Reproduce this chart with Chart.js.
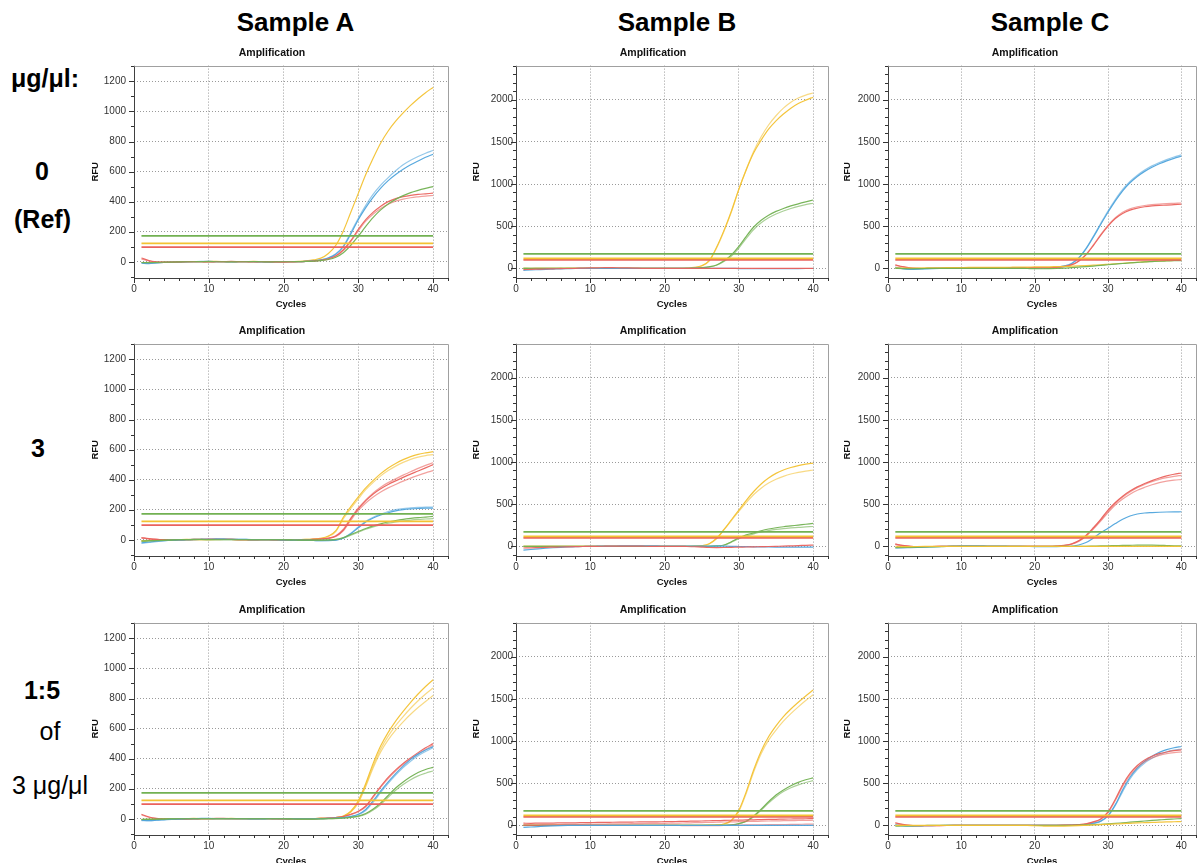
<!DOCTYPE html>
<html><head><meta charset="utf-8">
<script src="https://cdn.jsdelivr.net/npm/chart.js@4.4.1/dist/chart.umd.min.js"></script>
<style>
html,body{margin:0;padding:0;background:#fff;width:1197px;height:863px;overflow:hidden;position:relative;font-family:"Liberation Sans",Arial,sans-serif;}
.lbl{position:absolute;text-align:center;white-space:nowrap;color:#000;}
.hdr{font-size:26px;font-weight:bold;line-height:30px;width:200px;}
.row{font-size:25px;line-height:28px;width:100px;}
.b{font-weight:bold;}
canvas{position:absolute;}
</style></head><body>
<div class="lbl hdr" style="left:195.5px;top:7px">Sample A</div>
<div class="lbl hdr" style="left:577px;top:7px">Sample B</div>
<div class="lbl hdr" style="left:950px;top:7px">Sample C</div>
<div class="lbl row b" style="left:-5px;top:64px">μg/μl:</div>
<div class="lbl row b" style="left:-8px;top:157px">0</div>
<div class="lbl row b" style="left:-7.5px;top:205px">(Ref)</div>
<div class="lbl row b" style="left:-12px;top:434px">3</div>
<div class="lbl row b" style="left:-8px;top:676px">1:5</div>
<div class="lbl row" style="left:0px;top:717px">of</div>
<div class="lbl row" style="left:0px;top:771px">3 μg/μl</div>
<script>
const cycles = [1,2,3,4,5,6,7,8,9,10,11,12,13,14,15,16,17,18,19,20,21,22,23,24,25,26,27,28,29,30,31,32,33,34,35,36,37,38,39,40];
const xTickLabels = [0,10,20,30,40];
const yTickLabelsA = [0,200,400,600,800,1000,1200];
const yTickLabelsBC = [0,500,1000,1500,2000];
const thresholdsA = [172,122,98];   // green, yellow, red
const thresholdsBC = [172,118,100]; // green, yellow, red

// ---- Sample A, 0 µg/µl ----
const A1_yellow = [-5,-8,-6,-4,-3,-2,-1,0,1,2, 2,1,0,0,1,2,1,0,-1,0, 1,3,6,12,24,55,110,205,330,455, 580,690,790,870,935,990,1040,1085,1125,1160];
const A1_blue1 = [-10,-12,-8,-5,-3,-2,-1,0,1,2, 1,0,-1,0,1,0,-1,-2,-1,0, 0,1,3,6,12,25,50,100,185,280, 360,430,490,540,580,615,645,670,695,715];
const A1_blue2 = [-6,-10,-7,-4,-2,-1,0,1,2,2, 1,0,0,1,1,0,-1,-1,0,0, 0,1,3,6,13,27,54,105,195,290, 375,450,510,560,605,645,675,700,722,740];
const A1_green = [-5,-6,-4,-3,-2,-1,0,0,1,1, 0,0,-1,0,0,1,0,-1,0,0, 0,1,2,4,8,15,30,60,110,170, 235,295,345,385,415,440,460,475,488,500];
const A1_red1 = [25,8,0,-3,-2,-1,0,1,0,-1, 0,1,2,1,0,-1,0,0,-1,-2, -1,0,2,5,10,20,40,80,140,215, 280,330,370,400,420,433,442,448,452,456];
const A1_red2 = [18,5,-1,-3,-2,-1,0,0,0,-1, 0,0,1,1,0,0,0,-1,-1,-1, 0,0,2,4,9,18,37,75,135,205, 270,318,355,383,403,417,426,432,437,441];

// ---- Sample B, 0 µg/µl ----
const B1_yellow1 = [0,-2,-1,0,0,0,1,0,0,-1, 0,0,0,0,0,0,0,0,0,0, 0,0,3,10,30,90,250,450,680,940, 1170,1370,1520,1650,1750,1830,1900,1955,1995,2030];
const B1_yellow2 = [0,-1,0,0,0,1,0,0,0,0, 0,0,0,0,0,0,0,0,0,0, 0,0,3,9,28,85,240,440,670,935, 1175,1390,1560,1700,1810,1900,1970,2020,2055,2080];
const B1_green1 = [0,0,0,0,0,0,0,0,0,0, 0,0,0,0,0,0,0,0,0,0, 0,0,0,3,8,18,40,90,160,260, 380,490,570,630,675,710,740,765,788,810];
const B1_green2 = [0,0,0,0,0,0,0,0,0,0, 0,0,0,0,0,0,0,0,0,0, 0,0,0,2,7,16,36,80,145,240, 355,460,540,600,645,680,710,735,755,772];
const B1_red = [-15,-12,-10,-8,-6,-4,-2,0,2,4, 6,8,8,6,4,2,0,0,0,0, 0,0,0,0,0,0,0,0,0,0, 0,0,0,0,0,0,0,0,0,0];
const B1_blue = [-25,-20,-16,-12,-9,-6,-4,-2,-1,0, 0,0,0,0,0,0,0,0,0,0, 0,0,0,0,0,0,0,0,0,-3, -5,-5,-4,-3,-3,-4,-5,-3,-2,-2];

// ---- Sample C, 0 µg/µl ----
const C1_blue1 = [10,-5,-12,-10,-6,-3,-1,0,1,2, 3,2,1,2,3,4,5,4,3,2, 3,6,12,26,55,120,230,370,520,665, 800,920,1015,1090,1150,1200,1240,1275,1305,1330];
const C1_blue2 = [12,-3,-10,-9,-5,-2,0,1,2,2, 3,3,2,2,3,4,4,4,3,3, 3,6,13,28,58,125,238,380,532,680, 815,935,1030,1105,1165,1215,1255,1290,1320,1345];
const C1_red1 = [40,20,5,0,-2,-1,0,1,2,3, 4,4,5,5,6,6,6,7,7,8, 8,9,12,20,40,85,160,270,390,500, 590,650,690,715,730,740,746,750,755,760];
const C1_red2 = [35,16,3,-1,-2,-1,0,1,2,3, 3,4,4,5,5,6,6,6,7,7, 8,9,12,21,42,88,165,278,400,510, 600,665,705,730,745,755,762,767,771,775];
const C1_yellow = [5,3,2,3,4,5,6,7,8,9, 10,10,10,11,12,12,13,14,15,16, 17,18,20,22,25,28,32,37,42,48, 54,60,66,72,77,82,86,90,93,96];
const C1_green = [0,-3,-5,-4,-2,0,0,0,0,0, 0,0,0,0,0,0,0,0,-2,-4, -5,-4,-2,2,8,14,20,27,35,42, 50,57,64,70,76,80,84,87,90,92];

// ---- Sample A, 3 µg/µl ----
const A2_yellow1 = [-8,-5,-3,-1,0,1,2,1,0,1, 2,3,2,1,0,-1,0,1,0,-1, 0,1,2,5,10,25,60,150,220,285, 345,395,440,478,508,533,553,568,578,586];
const A2_yellow2 = [-6,-4,-2,-1,0,1,1,1,0,1, 1,2,2,1,0,0,0,1,0,0, 0,1,2,4,9,22,55,140,208,272, 333,382,425,460,490,515,535,550,560,566];
const A2_red1 = [15,8,3,0,-2,-1,0,2,3,4, 4,3,2,1,0,-1,0,0,-1,-2, -2,-1,0,2,5,10,25,65,140,205, 260,305,340,368,392,415,437,457,478,500];
const A2_red2 = [12,6,2,0,-1,-1,0,1,2,3, 3,3,2,1,0,0,0,0,-1,-1, -2,-1,0,2,4,9,22,60,130,195, 245,285,318,345,368,390,410,428,445,460];
const A2_red3 = [10,5,2,0,-1,0,1,2,3,3, 3,2,2,1,0,0,0,0,-1,-2, -2,-1,0,2,5,11,27,70,145,212, 265,312,350,380,405,430,452,475,495,512];
const A2_blue1 = [-20,-15,-10,-6,-3,-1,0,1,2,3, 4,4,3,2,2,1,0,0,0,-1, -2,-3,-4,-5,-6,-6,-3,10,40,80, 118,145,165,180,192,200,205,208,210,210];
const A2_blue2 = [-24,-18,-12,-7,-4,-1,0,2,3,3, 4,4,3,3,2,1,1,0,0,-1, -2,-3,-4,-5,-6,-5,-2,12,43,85, 123,150,170,188,200,208,212,215,217,218];
const A2_green1 = [-10,-8,-6,-4,-2,0,1,2,2,1, 0,0,0,0,0,0,0,0,0,0, -1,-2,-3,-3,-2,-1,2,15,35,55, 75,92,106,118,128,136,142,147,151,155];
const A2_green2 = [-8,-6,-5,-3,-1,0,1,1,1,1, 0,0,0,0,0,0,0,0,0,0, -1,-2,-2,-3,-2,-1,1,12,30,50, 70,86,99,110,119,126,131,135,138,141];

// ---- Sample B, 3 µg/µl ----
const B2_yellow1 = [0,0,0,0,0,0,0,0,0,0, 0,0,0,0,0,0,0,0,0,0, 0,0,0,2,8,30,95,200,315,430, 545,650,740,810,865,905,935,958,975,988];
const B2_yellow2 = [0,0,0,0,0,0,0,0,0,0, 0,0,0,0,0,0,0,0,0,0, 0,0,0,2,7,28,90,195,305,415, 520,615,690,750,795,830,858,878,893,905];
const B2_green1 = [0,0,0,0,0,0,0,0,0,0, 0,0,0,0,0,0,0,0,0,0, 0,0,0,0,0,0,5,15,55,100, 135,160,185,205,220,232,242,252,262,272];
const B2_green2 = [0,0,0,0,0,0,0,0,0,0, 0,0,0,0,0,0,0,0,0,0, 0,0,0,0,0,0,4,13,50,90, 122,148,170,187,200,210,218,225,230,235];
const B2_red = [-20,-18,-15,-12,-10,-8,-6,-4,-2,0, 0,1,2,2,2,1,1,0,0,0, 0,0,-2,-5,-10,-14,-15,-14,-12,-10, -8,-6,-4,-2,0,2,5,8,12,15];
const B2_blue = [-45,-38,-30,-23,-17,-12,-8,-5,-2,0, 1,2,3,4,5,5,5,4,4,3, 3,3,3,2,2,2,1,1,0,-2, -4,-6,-7,-8,-9,-10,-10,-10,-10,-10];

// ---- Sample C, 3 µg/µl ----
const C2_red1 = [28,10,0,-3,-3,-2,-1,0,1,1, 1,1,1,0,0,0,0,0,0,0, 0,0,3,10,28,65,130,220,320,430, 520,595,655,705,745,780,810,835,855,870];
const C2_red2 = [24,8,0,-3,-3,-2,-1,0,0,1, 1,1,0,0,0,0,0,0,0,0, 0,0,3,9,26,62,125,212,310,415, 510,585,645,695,735,768,795,815,830,842];
const C2_red3 = [20,6,-1,-3,-3,-2,-1,0,0,0, 1,0,0,0,0,0,0,0,0,0, 0,0,2,8,24,58,120,205,300,400, 490,560,618,665,700,730,755,773,785,792];
const C2_blue = [-20,-18,-15,-12,-9,-6,-3,0,2,4, 5,5,4,3,2,1,0,-1,-2,-3, -3,-3,-3,-2,0,15,45,98,160,215, 270,322,360,383,395,400,404,407,409,410];
const C2_green = [-15,-14,-12,-10,-8,-6,-4,-2,0,0, 0,0,0,0,0,0,0,0,0,0, 0,0,0,0,0,0,0,2,4,6, 8,10,12,14,15,14,12,9,6,4];
const C2_yellow = [-5,-4,-3,-2,-1,0,0,0,0,0, 0,0,0,0,0,0,0,0,0,0, 0,0,0,0,0,0,0,0,0,0, 0,0,0,0,0,0,0,0,0,0];

// ---- Sample A, 1:5 of 3 µg/µl ----
const A3_yellow1 = [-8,-6,-4,-2,-1,0,1,2,1,0, 0,1,2,1,0,-1,0,1,0,-1, 0,0,0,1,2,4,8,18,50,120, 235,370,485,575,650,715,775,830,880,925];
const A3_yellow2 = [-6,-5,-3,-2,-1,0,1,1,1,0, 0,1,1,1,0,0,0,1,0,0, 0,0,0,1,2,4,8,17,47,112, 225,355,465,550,620,680,735,785,830,870];
const A3_yellow3 = [-5,-4,-3,-1,0,0,1,1,0,0, 0,0,1,1,0,0,0,0,0,0, 0,0,0,1,2,3,7,16,44,105, 215,340,445,525,590,645,695,740,780,820];
const A3_red1 = [30,12,2,-3,-4,-3,-2,-1,0,1, 2,2,1,0,0,0,0,0,-1,-1, -1,0,0,1,2,4,8,15,30,50, 85,150,215,275,325,368,405,440,472,500];
const A3_red2 = [25,10,1,-3,-4,-3,-2,-1,0,1, 1,1,1,0,0,0,0,0,0,-1, -1,-1,0,1,2,4,7,14,28,47, 80,143,210,268,318,360,398,432,462,490];
const A3_blue1 = [-10,-12,-10,-7,-4,-2,0,1,2,2, 1,0,0,0,0,-1,-1,0,0,0, 0,0,0,0,1,2,4,8,16,30, 62,120,185,245,300,350,395,430,458,480];
const A3_blue2 = [-12,-13,-10,-6,-3,-1,0,1,1,1, 1,0,0,0,-1,-1,-1,0,0,0, 0,0,0,0,1,2,3,7,14,27, 55,110,175,235,290,340,383,420,448,472];
const A3_green1 = [-5,-4,-3,-2,-1,0,0,0,0,0, 0,0,0,0,0,0,0,0,0,0, -1,-2,-2,-2,-1,0,2,5,10,18, 35,65,105,155,205,245,280,308,328,342];
const A3_green2 = [-4,-3,-2,-1,0,0,0,0,0,0, 0,0,0,0,0,0,0,0,0,0, -1,-2,-2,-2,-1,0,1,4,8,15, 30,58,95,143,190,228,260,285,303,318];

// ---- Sample B, 1:5 of 3 µg/µl ----
const B3_yellow1 = [0,0,0,0,0,0,0,0,0,0, 0,0,0,0,0,0,0,0,0,0, 0,0,0,0,0,1,4,15,60,180, 400,660,880,1050,1180,1290,1380,1460,1535,1605];
const B3_yellow2 = [0,0,0,0,0,0,0,0,0,0, 0,0,0,0,0,0,0,0,0,0, 0,0,0,0,0,1,4,14,55,165, 380,635,850,1010,1130,1235,1325,1405,1480,1550];
const B3_green1 = [0,0,0,0,0,0,0,0,0,0, 0,0,0,0,0,0,0,0,0,0, 0,0,0,0,0,0,0,0,5,20, 50,110,190,280,360,420,470,510,540,562];
const B3_green2 = [0,0,0,0,0,0,0,0,0,0, 0,0,0,0,0,0,0,0,0,0, 0,0,0,0,0,0,0,0,4,18, 45,102,180,265,340,400,445,480,508,530];
const B3_red1 = [25,24,26,27,27,29,30,30,32,33, 34,34,36,37,37,39,40,41,41,43, 44,46,47,50,51,54,55,58,60,61, 64,65,68,70,71,74,75,76,78,80];
const B3_red2 = [5,6,6,8,9,9,11,12,12,14, 15,15,17,18,18,20,21,22,22,24, 25,27,28,31,32,35,36,39,40,43, 45,46,49,51,52,55,56,57,58,60];
const B3_red3 = [0,-2,-3,-3,-2,-1,0,0,0,0, 0,0,0,0,0,0,0,0,0,0, 0,-2,-4,-5,-5,-4,-3,-2,0,2, 4,5,6,7,8,9,10,12,13,15];
const B3_blue = [-25,-20,-15,-10,-6,-3,-1,0,0,0, 0,0,0,0,0,0,0,0,0,0, 0,0,0,0,0,0,0,0,0,0, 0,0,0,0,0,0,0,0,0,0];

// ---- Sample C, 1:5 of 3 µg/µl ----
const C3_red1 = [30,10,0,-4,-5,-4,-3,-2,-1,0, 0,0,0,0,0,0,0,0,0,0, 0,0,0,1,3,8,18,40,75,160, 310,480,615,710,775,820,850,870,885,895];
const C3_red2 = [26,8,-1,-4,-5,-4,-3,-2,-1,0, 0,0,0,0,0,0,0,0,0,0, 0,0,0,1,3,7,16,37,70,150, 295,460,595,690,755,800,830,850,862,870];
const C3_blue1 = [5,-5,-8,-7,-5,-3,-2,-1,0,0, 0,0,0,0,0,0,0,0,0,0, 0,0,0,0,1,4,10,25,50,115, 245,420,570,680,760,820,865,898,920,935];
const C3_blue2 = [3,-6,-9,-7,-5,-3,-2,-1,0,0, 0,0,0,0,0,0,0,0,0,0, 0,0,0,0,1,3,9,22,47,110, 235,400,550,660,740,795,840,872,892,905];
const C3_green = [-10,-8,-6,-4,-2,0,0,0,0,0, 0,0,0,0,0,0,0,0,0,0, 0,0,0,0,0,2,5,8,12,17, 23,30,37,44,51,58,64,70,75,80];
const C3_yellow = [0,0,0,0,0,0,0,0,0,0, 0,0,0,0,0,0,0,0,0,-5, -8,-10,-10,-9,-7,-4,0,4,8,12, 16,20,24,28,31,34,37,40,42,44];

const panels = [
  [ {thr:thresholdsA, yTicks:yTickLabelsA, curves:{green:[A1_green], red:[A1_red1,A1_red2], blue:[A1_blue1,A1_blue2], yellow:[A1_yellow]}},
    {thr:thresholdsBC, yTicks:yTickLabelsBC, curves:{red:[B1_red], blue:[B1_blue], green:[B1_green1,B1_green2], yellow:[B1_yellow1,B1_yellow2]}},
    {thr:thresholdsBC, yTicks:yTickLabelsBC, curves:{green:[C1_green], yellow:[C1_yellow], red:[C1_red1,C1_red2], blue:[C1_blue1,C1_blue2]}} ],
  [ {thr:thresholdsA, yTicks:yTickLabelsA, curves:{green:[A2_green1,A2_green2], blue:[A2_blue1,A2_blue2], red:[A2_red1,A2_red2,A2_red3], yellow:[A2_yellow1,A2_yellow2]}},
    {thr:thresholdsBC, yTicks:yTickLabelsBC, curves:{red:[B2_red], blue:[B2_blue], green:[B2_green1,B2_green2], yellow:[B2_yellow1,B2_yellow2]}},
    {thr:thresholdsBC, yTicks:yTickLabelsBC, curves:{yellow:[C2_yellow], green:[C2_green], blue:[C2_blue], red:[C2_red1,C2_red2,C2_red3]}} ],
  [ {thr:thresholdsA, yTicks:yTickLabelsA, curves:{green:[A3_green1,A3_green2], blue:[A3_blue1,A3_blue2], red:[A3_red1,A3_red2], yellow:[A3_yellow1,A3_yellow2,A3_yellow3]}},
    {thr:thresholdsBC, yTicks:yTickLabelsBC, curves:{blue:[B3_blue], red:[B3_red1,B3_red2,B3_red3], green:[B3_green1,B3_green2], yellow:[B3_yellow1,B3_yellow2]}},
    {thr:thresholdsBC, yTicks:yTickLabelsBC, curves:{yellow:[C3_yellow], green:[C3_green], red:[C3_red1,C3_red2], blue:[C3_blue1,C3_blue2]}} ]
];

// ---- layout / style (not data) ----
const FF = '"Liberation Sans", Arial, sans-serif';
const COLORS = {yellow:[243,194,51], blue:[79,164,220], green:[114,177,82], red:[234,98,93]};
const THR_ORDER = ['green','yellow','red'];
const columns = [
  {left:87,  width:370, yW:47, rW:9,  yMin:-108, yMax:1305, step:200, labelPad:8, rfuPad:2.3},
  {left:470, width:366, yW:46, rW:8,  yMin:-115, yMax:2405, step:500, labelPad:3, rfuPad:0.3},
  {left:842, width:366, yW:46, rW:12, yMin:-115, yMax:2405, step:500, labelPad:8, rfuPad:0}
];
const rowTops = [43, 321, 600];
const CH = 269;

const rgba = (c,a) => `rgba(${c[0]},${c[1]},${c[2]},${a})`;

const axisPlugin = {
  id:'axisDeco',
  afterDraw(chart){
    const {ctx, chartArea:a, scales:{x,y}} = chart;
    const step = chart.options.plugins.axisDeco.step;
    ctx.save();
    ctx.lineWidth = 1;
    ctx.strokeStyle = '#a0a0a0';
    ctx.beginPath();
    ctx.moveTo(Math.round(a.left)+0.5, Math.round(a.top)+0.5);
    ctx.lineTo(Math.round(a.right)+0.5, Math.round(a.top)+0.5);
    ctx.lineTo(Math.round(a.right)+0.5, Math.round(a.bottom)+0.5);
    ctx.stroke();
    ctx.strokeStyle = '#404040';
    ctx.beginPath();
    ctx.moveTo(Math.round(a.left)+0.5, Math.round(a.top)+0.5);
    ctx.lineTo(Math.round(a.left)+0.5, Math.round(a.bottom)+0.5);
    ctx.lineTo(Math.round(a.right)+0.5, Math.round(a.bottom)+0.5);
    ctx.stroke();
    ctx.strokeStyle = '#333';
    ctx.beginPath();
    for (let v = 0; v <= x.max; v += 2) {
      const px = Math.round(x.getPixelForValue(v)) + 0.5;
      const len = (v % 10 === 0) ? 5 : 3;
      ctx.moveTo(px, a.bottom); ctx.lineTo(px, a.bottom + len);
    }
    for (let v = Math.ceil(y.min/100)*100; v <= y.max; v += 100) {
      const py = Math.round(y.getPixelForValue(v)) + 0.5;
      const len = (v % step === 0) ? 5 : 3;
      ctx.moveTo(a.left, py); ctx.lineTo(a.left - len, py);
    }
    ctx.stroke();
    ctx.restore();
  }
};

panels.forEach((row, r) => {
  row.forEach((p, c) => {
    const col = columns[c];
    const cv = document.createElement('canvas');
    cv.width = col.width; cv.height = CH;
    cv.style.left = col.left + 'px'; cv.style.top = rowTops[r] + 'px';
    document.body.appendChild(cv);

    const datasets = [];
    p.thr.forEach((t, i) => {
      datasets.push({
        data:[{x:cycles[0], y:t}, {x:cycles[cycles.length-1], y:t}],
        borderColor: rgba(COLORS[THR_ORDER[i]], 1), borderWidth: 1.8,
        pointRadius: 0, fill: false
      });
    });
    Object.keys(p.curves).forEach(name => {
      p.curves[name].forEach((arr, k) => {
        datasets.push({
          data: cycles.map((cy, i) => ({x: cy, y: arr[i]})),
          borderColor: rgba(COLORS[name], k === 0 ? 0.95 : 0.6),
          borderWidth: 1.2, pointRadius: 0, fill: false,
          cubicInterpolationMode: 'monotone'
        });
      });
    });

    new Chart(cv, {
      type: 'line',
      data: {datasets},
      plugins: [axisPlugin],
      options: {
        responsive: false, animation: false, events: [],
        layout: {padding: 0},
        plugins: {
          legend: {display: false}, tooltip: {enabled: false},
          axisDeco: {step: col.step},
          title: {display: true, text: 'Amplification', color: '#111',
                  font: {family: FF, size: 10.5, weight: 'bold'}, padding: {top: 4, bottom: 6}}
        },
        scales: {
          x: {
            type: 'linear', min: 0, max: 42,
            afterBuildTicks: s => { s.ticks = xTickLabels.map(v => ({value: v})); },
            ticks: {padding: 5, color: '#333', maxRotation: 0, autoSkip: false,
                    font: {family: FF, size: 10}, callback: v => String(v)},
            grid: {drawTicks: false, color: '#9a9a9a', lineWidth: 1},
            border: {display: false, dash: [1, 2]},
            title: {display: true, text: 'Cycles', color: '#111', font: {family: FF, size: 9.5, weight: 'bold'},
                    padding: {top: 0, bottom: 2}},
            afterFit: s => { s.height = 34; }
          },
          y: {
            type: 'linear', position: 'left', min: col.yMin, max: col.yMax,
            afterBuildTicks: s => { s.ticks = p.yTicks.map(v => ({value: v})); },
            ticks: {padding: col.labelPad, color: '#333', autoSkip: false,
                    font: {family: FF, size: 10}, callback: v => String(v)},
            grid: {drawTicks: false, color: '#9a9a9a', lineWidth: 1},
            border: {display: false, dash: [1, 2]},
            title: {display: true, text: 'RFU', color: '#111', font: {family: FF, size: 9.5, weight: 'bold'},
                    padding: {top: col.rfuPad, bottom: 0}},
            afterFit: s => { s.width = col.yW; }
          },
          y2: {
            type: 'linear', position: 'right', display: true, min: 0, max: 1,
            ticks: {display: false}, grid: {display: false, drawOnChartArea: false, drawTicks: false},
            border: {display: false},
            afterFit: s => { s.width = col.rW; }
          }
        }
      }
    });
  });
});
</script>
</body></html>
